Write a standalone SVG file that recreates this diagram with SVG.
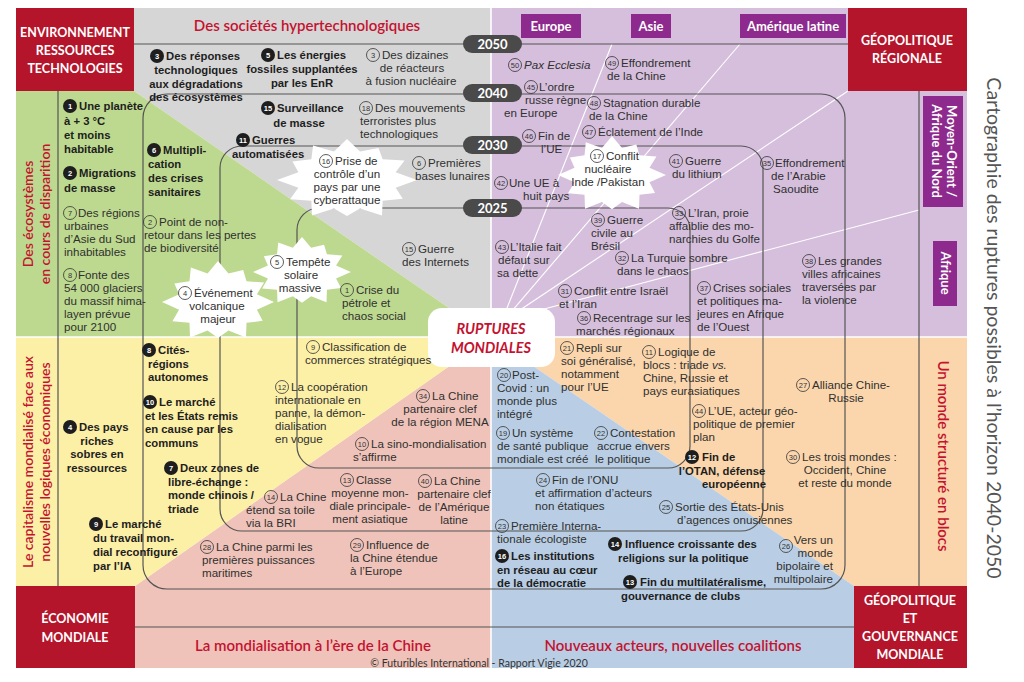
<svg xmlns="http://www.w3.org/2000/svg" width="1024" height="682" viewBox="0 0 1024 682">
<defs>
<style>
text{font-family:Lato,"Liberation Sans",sans-serif}
.t{font-family:"Liberation Sans",Arial,sans-serif;font-size:11.6px;fill:#303030}
.b{font-family:"Liberation Sans",Arial,sans-serif;font-size:11.3px;font-weight:700;fill:#1e1e1e}
.oc{fill:none;stroke:#333;stroke-width:0.8}
.bc{fill:#1e1e1e}
.on{font-family:"Liberation Sans",Arial,sans-serif;font-size:7.5px;fill:#333;text-anchor:middle}
.bn{font-family:"Liberation Sans",Arial,sans-serif;font-size:7.5px;font-weight:700;fill:#fff;text-anchor:middle}
.m{text-anchor:middle}
.e{text-anchor:end}
.ring{fill:none;stroke:#555;stroke-width:1.2}
.fan{stroke:#fff;stroke-width:1.1}
.sep{stroke:#fff;stroke-width:1.6}
.pill{fill:#4a4a4a}
.yr{font-size:13px;font-weight:700;fill:#fff;text-anchor:middle}
.red{fill:#b5152b}
.cap{font-size:12.5px;font-weight:700;fill:#fff;text-anchor:middle}
.rh{font-size:15px;fill:#c41230;text-anchor:middle;font-weight:600}
.rv{font-size:14px;fill:#c41230;text-anchor:middle;font-weight:600}
.pb{fill:#8e2a8e}
.pt{font-size:13px;font-weight:700;fill:#fff;text-anchor:middle}
.star{fill:#fff}
.i{font-style:italic}
</style>
<path id="star" d="M1,0 L0.695,0.186 L0.797,0.46 L0.509,0.509 L0.5,0.866 L0.186,0.695 L0,0.88 L-0.186,0.695 L-0.5,0.866 L-0.509,0.509 L-0.814,0.47 L-0.695,0.186 L-1,0 L-0.695,-0.186 L-0.779,-0.45 L-0.509,-0.509 L-0.485,-0.84 L-0.186,-0.695 L0,-1 L0.186,-0.695 L0.45,-0.779 L0.509,-0.509 L0.823,-0.475 L0.695,-0.186 Z"/>
</defs>
<rect width="1024" height="682" fill="#fff"/>
<g id="areas">
<polygon points="134,8 491,8 491,337 134,91" fill="#d6d6d6"/>
<polygon points="16,91 134,91 491,337 16,337" fill="#bdd98f"/>
<polygon points="491,8 967,8 967,337 491,337" fill="#d6bfdc"/>
<polygon points="491,337 967,337 967,586 854,586" fill="#fbd6ac"/>
<polygon points="491,337 854,586 854,668 491,668" fill="#b9cee4"/>
<polygon points="491,337 491,668 135,668 135,586" fill="#efc3b9"/>
<polygon points="16,337 491,337 135,586 16,586" fill="#fcefa6"/>
<line class="sep" x1="491" y1="8" x2="491" y2="668"/>
<line class="sep" x1="16" y1="337" x2="967" y2="337"/>
</g>
<g id="connectors">
<line class="fan" x1="503" y1="318" x2="612" y2="44"/>
<line class="fan" x1="506" y1="318" x2="740" y2="44"/>
<line class="fan" x1="508" y1="318" x2="848" y2="91"/>
<line class="fan" x1="510" y1="318" x2="919" y2="210"/>
<path class="ring" d="M134,44 H848 M58,91 V586 M919,91 V586 M135,627 H854"/>
<rect class="ring" x="143" y="94" width="702" height="495" rx="24"/>
<rect class="ring" x="220" y="146" width="543" height="385" rx="22"/>
<rect class="ring" x="297" y="208" width="393" height="260" rx="22"/>
</g>
<g id="stars">
<use href="#star" class="star" transform="translate(347,180) scale(70,41)"/>
<use href="#star" class="star" transform="translate(218,302) scale(56,41)"/>
<use href="#star" class="star" transform="translate(302,272) scale(49,35)"/>
<use href="#star" class="star" transform="translate(612,175) scale(54,39)"/>
</g>
<g id="years">
<rect class="pill" x="463" y="35" width="59" height="18" rx="9"/><text class="yr" x="492.5" y="49">2050</text>
<rect class="pill" x="463" y="84" width="59" height="18" rx="9"/><text class="yr" x="492.5" y="98">2040</text>
<rect class="pill" x="463" y="136" width="59" height="18" rx="9"/><text class="yr" x="492.5" y="150">2030</text>
<rect class="pill" x="463" y="199" width="59" height="18" rx="9"/><text class="yr" x="492.5" y="213">2025</text>
</g>
<g id="center">
<rect x="428" y="308" width="127" height="59" rx="14" fill="#fff"/>
<text font-size="14.5" font-weight="700" font-style="italic" fill="#c41230" text-anchor="middle"><tspan x="491" y="334">RUPTURES</tspan><tspan x="491" y="353">MONDIALES</tspan></text>
</g>
<g id="corners">
<rect class="red" x="16" y="8" width="118" height="83"/>
<text class="cap"><tspan x="75" y="37">ENVIRONNEMENT</tspan><tspan x="75" y="55">RESSOURCES</tspan><tspan x="75" y="73">TECHNOLOGIES</tspan></text>
<rect class="red" x="848" y="8" width="119" height="83"/>
<text class="cap"><tspan x="907" y="45">GÉOPOLITIQUE</tspan><tspan x="907" y="63">RÉGIONALE</tspan></text>
<rect class="red" x="16" y="586" width="119" height="82"/>
<text class="cap"><tspan x="75" y="623">ÉCONOMIE</tspan><tspan x="75" y="642">MONDIALE</tspan></text>
<rect class="red" x="854" y="586" width="113" height="82"/>
<text class="cap"><tspan x="910" y="605">GÉOPOLITIQUE</tspan><tspan x="910" y="623">ET</tspan><tspan x="910" y="641">GOUVERNANCE</tspan><tspan x="910" y="659">MONDIALE</tspan></text>
</g>
<g id="headers">
<text class="rh" x="307" y="31">Des sociétés hypertechnologiques</text>
<text class="rh" x="313" y="651">La mondialisation à l’ère de la Chine</text>
<text class="rh" x="673" y="651">Nouveaux acteurs, nouvelles coalitions</text>
<text x="479" y="667" font-size="10.5" fill="#333" text-anchor="middle">© Futuribles International - Rapport Vigie 2020</text>
<text class="rv" transform="translate(33,214) rotate(-90)">Des écosystèmes</text>
<text class="rv" transform="translate(50,214) rotate(-90)">en cours de disparition</text>
<text class="rv" transform="translate(33,462) rotate(-90)">Le capitalisme mondialisé face aux</text>
<text class="rv" transform="translate(50,462) rotate(-90)">nouvelles logiques économiques</text>
<text class="rh" transform="translate(938,456) rotate(90)">Un monde structuré en blocs</text>
<rect class="pb" x="521" y="14" width="60" height="24"/><text class="pt" x="551" y="31">Europe</text>
<rect class="pb" x="631" y="14" width="40" height="24"/><text class="pt" x="651" y="31">Asie</text>
<rect class="pb" x="740" y="14" width="106" height="24"/><text class="pt" x="793" y="31">Amérique latine</text>
<rect class="pb" x="923" y="96" width="40" height="111"/>
<text class="pt" font-size="12" transform="translate(947,151) rotate(90)">Moyen-Orient /</text>
<text class="pt" font-size="12" transform="translate(932,151) rotate(90)">Afrique du Nord</text>
<rect class="pb" x="933" y="241" width="24" height="65"/>
<text class="pt" font-size="12" transform="translate(941,273) rotate(90)">Afrique</text>
<text x="0" y="0" font-size="19.5" fill="#555" text-anchor="middle" transform="translate(987,328) rotate(90)">Cartographie des ruptures possibles à l’horizon 2040-2050</text>
</g>
<g id="nodes">
<g id="n-b3"><circle class="bc" cx="157" cy="56" r="7"/><text class="bn" x="157" y="58.7">3</text><text class="b"><tspan x="166" y="60">Des réponses</tspan><tspan class="m" x="196" y="74">technologiques</tspan><tspan class="m" x="196" y="87.5">aux dégradations</tspan><tspan class="m" x="196" y="101">des écosystèmes</tspan></text></g>
<g id="n-b5"><circle class="bc" cx="268" cy="55" r="7"/><text class="bn" x="268" y="57.7">5</text><text class="b"><tspan x="277" y="59">Les énergies</tspan><tspan class="m" x="302" y="73">fossiles supplantées</tspan><tspan class="m" x="302" y="87">par les EnR</tspan></text></g>
<g id="n-o3"><circle class="oc" cx="373" cy="55" r="6.5"/><text class="on" x="373" y="57.7">3</text><text class="t"><tspan x="382" y="59">Des dizaines</tspan><tspan class="m" x="412" y="72">de réacteurs</tspan><tspan class="m" x="411" y="85">à fusion nucléaire</tspan></text></g>
<g id="n-b15"><circle class="bc" cx="268" cy="108" r="7"/><text class="bn" x="268" y="110.7">15</text><text class="b" font-size="12"><tspan x="277" y="112">Surveillance</tspan><tspan class="m" x="299" y="127">de masse</tspan></text></g>
<g id="n-o18"><circle class="oc" cx="366" cy="108" r="6.5"/><text class="on" x="366" y="110.7">18</text><text class="t"><tspan x="375" y="112">Des mouvements</tspan><tspan x="360" y="125">terroristes plus</tspan><tspan x="360" y="138">technologiques</tspan></text></g>
<g id="n-b11"><circle class="bc" cx="243" cy="140" r="7"/><text class="bn" x="243" y="142.7">11</text><text class="b"><tspan x="252" y="144">Guerres</tspan><tspan x="232" y="158">automatisées</tspan></text></g>
<g id="n-o16"><circle class="oc" cx="326" cy="161" r="6.5"/><text class="on" x="326" y="163.7">16</text><text class="t"><tspan x="335" y="165">Prise de</tspan><tspan class="m" x="347" y="178">contrôle d’un</tspan><tspan class="m" x="347" y="191">pays par une</tspan><tspan class="m" x="347" y="204">cyberattaque</tspan></text></g>
<g id="n-o6"><circle class="oc" cx="419" cy="163" r="6.5"/><text class="on" x="419" y="165.7">6</text><text class="t"><tspan x="428" y="167">Premières</tspan><tspan x="415" y="180">bases lunaires</tspan></text></g>
<g id="n-o15"><circle class="oc" cx="409" cy="249" r="6.5"/><text class="on" x="409" y="251.7">15</text><text class="t"><tspan x="418" y="253">Guerre</tspan><tspan x="402" y="266">des Internets</tspan></text></g>
<g id="n-b1"><circle class="bc" cx="70" cy="106" r="7"/><text class="bn" x="70" y="108.7">1</text><text class="b"><tspan x="79" y="110">Une planète</tspan><tspan x="64" y="125">à + 3 °C</tspan><tspan x="64" y="139">et moins</tspan><tspan x="64" y="152.5">habitable</tspan></text></g>
<g id="n-b2"><circle class="bc" cx="70" cy="173" r="7"/><text class="bn" x="70" y="175.7">2</text><text class="b"><tspan x="79" y="177">Migrations</tspan><tspan x="64" y="192">de masse</tspan></text></g>
<g id="n-o7"><circle class="oc" cx="70" cy="213" r="6.5"/><text class="on" x="70" y="215.7">7</text><text class="t"><tspan x="78" y="217">Des régions</tspan><tspan x="64" y="230">urbaines</tspan><tspan x="64" y="243">d’Asie du Sud</tspan><tspan x="64" y="256">inhabitables</tspan></text></g>
<g id="n-o8"><circle class="oc" cx="70" cy="275" r="6.5"/><text class="on" x="70" y="277.7">8</text><text class="t"><tspan x="78" y="279">Fonte des</tspan><tspan x="64" y="292">54 000 glaciers</tspan><tspan x="64" y="305">du massif hima-</tspan><tspan x="64" y="318">layen prévue</tspan><tspan x="64" y="331">pour 2100</tspan></text></g>
<g id="n-b6"><circle class="bc" cx="154" cy="150" r="7"/><text class="bn" x="154" y="152.7">6</text><text class="b"><tspan x="163" y="154">Multipli-</tspan><tspan x="148" y="168">cation</tspan><tspan x="148" y="182">des crises</tspan><tspan x="148" y="196">sanitaires</tspan></text></g>
<g id="n-o2"><circle class="oc" cx="150" cy="222" r="6.5"/><text class="on" x="150" y="224.7">2</text><text class="t"><tspan x="159" y="226">Point de non-</tspan><tspan x="144" y="239">retour dans les pertes</tspan><tspan x="144" y="252">de biodiversité</tspan></text></g>
<g id="n-o4"><circle class="oc" cx="185" cy="293" r="6.5"/><text class="on" x="185" y="295.7">4</text><text class="t"><tspan x="194" y="297">Événement</tspan><tspan class="m" x="217" y="310">volcanique</tspan><tspan class="m" x="218" y="323">majeur</tspan></text></g>
<g id="n-o5"><circle class="oc" cx="277" cy="262" r="6.5"/><text class="on" x="277" y="264.7">5</text><text class="t"><tspan x="286" y="266">Tempête</tspan><tspan class="m" x="301" y="279">solaire</tspan><tspan class="m" x="300" y="292">massive</tspan></text></g>
<g id="n-o1"><circle class="oc" cx="347" cy="290" r="6.5"/><text class="on" x="347" y="292.7">1</text><text class="t"><tspan x="356" y="294">Crise du</tspan><tspan x="342" y="307">pétrole et</tspan><tspan x="342" y="320">chaos social</tspan></text></g>
<g id="n-o50"><circle class="oc" cx="515" cy="65" r="6.5"/><text class="on" x="515" y="67.7">50</text><text class="t i" x="524" y="69">Pax Ecclesia</text></g>
<g id="n-o49"><circle class="oc" cx="612" cy="63" r="6.5"/><text class="on" x="612" y="65.7">49</text><text class="t"><tspan x="621" y="67">Effondrement</tspan><tspan x="607" y="80">de la Chine</tspan></text></g>
<g id="n-o45"><circle class="oc" cx="531" cy="87" r="6.5"/><text class="on" x="531" y="89.7">45</text><text class="t"><tspan x="539" y="91">L’ordre</tspan><tspan x="525" y="104">russe règne</tspan><tspan x="504" y="117">en Europe</tspan></text></g>
<g id="n-o48"><circle class="oc" cx="594" cy="103" r="6.5"/><text class="on" x="594" y="105.7">48</text><text class="t"><tspan x="603" y="107">Stagnation durable</tspan><tspan x="589" y="120">de la Chine</tspan></text></g>
<g id="n-o46"><circle class="oc" cx="529" cy="136" r="6.5"/><text class="on" x="529" y="138.7">46</text><text class="t"><tspan x="538" y="140">Fin de</tspan><tspan x="541" y="153">l’UE</tspan></text></g>
<g id="n-o47"><circle class="oc" cx="589" cy="132" r="6.5"/><text class="on" x="589" y="134.7">47</text><text class="t" x="598" y="136">Éclatement de l’Inde</text></g>
<g id="n-o17"><circle class="oc" cx="597" cy="156" r="6.5"/><text class="on" x="597" y="158.7">17</text><text class="t"><tspan x="606" y="160">Conflit</tspan><tspan class="m" x="608" y="173">nucléaire</tspan><tspan class="m" x="608" y="186">Inde /Pakistan</tspan></text></g>
<g id="n-o41"><circle class="oc" cx="676" cy="161" r="6.5"/><text class="on" x="676" y="163.7">41</text><text class="t"><tspan x="685" y="165">Guerre</tspan><tspan x="672" y="178">du lithium</tspan></text></g>
<g id="n-o42"><circle class="oc" cx="501" cy="183" r="6.5"/><text class="on" x="501" y="185.7">42</text><text class="t"><tspan x="509" y="187">Une UE à</tspan><tspan x="523" y="200">huit pays</tspan></text></g>
<g id="n-o35"><circle class="oc" cx="767" cy="163" r="6.5"/><text class="on" x="767" y="165.7">35</text><text class="t"><tspan x="775" y="167">Effondrement</tspan><tspan x="771" y="180">de l’Arabie</tspan><tspan x="773" y="193">Saoudite</tspan></text></g>
<g id="n-o33"><circle class="oc" cx="679" cy="213" r="6.5"/><text class="on" x="679" y="215.7">33</text><text class="t"><tspan x="688" y="217">L’Iran, proie</tspan><tspan x="669" y="230">affaiblie des mo-</tspan><tspan x="669" y="243">narchies du Golfe</tspan></text></g>
<g id="n-o39"><circle class="oc" cx="598" cy="220" r="6.5"/><text class="on" x="598" y="222.7">39</text><text class="t"><tspan x="607" y="224">Guerre</tspan><tspan x="591" y="237">civile au</tspan><tspan x="591" y="250">Brésil</tspan></text></g>
<g id="n-o43"><circle class="oc" cx="502" cy="247" r="6.5"/><text class="on" x="502" y="249.7">43</text><text class="t"><tspan x="510" y="251">L’Italie fait</tspan><tspan x="498" y="264">défaut sur</tspan><tspan x="497" y="277">sa dette</tspan></text></g>
<g id="n-o32"><circle class="oc" cx="622" cy="258" r="6.5"/><text class="on" x="622" y="260.7">32</text><text class="t"><tspan x="631" y="262">La Turquie sombre</tspan><tspan x="617" y="275">dans le chaos</tspan></text></g>
<g id="n-o31"><circle class="oc" cx="565" cy="291" r="6.5"/><text class="on" x="565" y="293.7">31</text><text class="t"><tspan x="574" y="295">Conflit entre Israël</tspan><tspan x="559" y="308">et l’Iran</tspan></text></g>
<g id="n-o36"><circle class="oc" cx="584" cy="318" r="6.5"/><text class="on" x="584" y="320.7">36</text><text class="t"><tspan x="593" y="322">Recentrage sur les</tspan><tspan x="576" y="335">marchés régionaux</tspan></text></g>
<g id="n-o37"><circle class="oc" cx="704" cy="288" r="6.5"/><text class="on" x="704" y="290.7">37</text><text class="t"><tspan x="713" y="292">Crises sociales</tspan><tspan x="697" y="305">et politiques ma-</tspan><tspan x="697" y="318">jeures en Afrique</tspan><tspan x="697" y="331">de l’Ouest</tspan></text></g>
<g id="n-o38"><circle class="oc" cx="809" cy="261" r="6.5"/><text class="on" x="809" y="263.7">38</text><text class="t"><tspan x="818" y="265">Les grandes</tspan><tspan x="802" y="278">villes africaines</tspan><tspan x="802" y="291">traversées par</tspan><tspan x="802" y="304">la violence</tspan></text></g>
<g id="n-o21"><circle class="oc" cx="567" cy="348" r="6.5"/><text class="on" x="567" y="350.7">21</text><text class="t"><tspan x="576" y="352">Repli sur</tspan><tspan x="561" y="365">soi généralisé,</tspan><tspan x="561" y="378">notamment</tspan><tspan x="561" y="391">pour l’UE</tspan></text></g>
<g id="n-o11"><circle class="oc" cx="649" cy="352" r="6.5"/><text class="on" x="649" y="354.7">11</text><text class="t"><tspan x="658" y="356">Logique de</tspan><tspan x="643" y="369">blocs : triade <tspan class="i">vs.</tspan></tspan><tspan x="643" y="382">Chine, Russie et</tspan><tspan x="643" y="395">pays eurasiatiques</tspan></text></g>
<g id="n-o44"><circle class="oc" cx="699" cy="411" r="6.5"/><text class="on" x="699" y="413.7">44</text><text class="t"><tspan x="708" y="415">L’UE, acteur géo-</tspan><tspan x="693" y="428">politique de premier</tspan><tspan x="693" y="441">plan</tspan></text></g>
<g id="n-o27"><circle class="oc" cx="803" cy="385" r="6.5"/><text class="on" x="803" y="387.7">27</text><text class="t"><tspan x="812" y="389">Alliance Chine-</tspan><tspan class="m" x="846" y="402">Russie</tspan></text></g>
<g id="n-o30"><circle class="oc" cx="793" cy="457" r="6.5"/><text class="on" x="793" y="459.7">30</text><text class="t"><tspan x="802" y="461">Les trois mondes :</tspan><tspan class="m" x="845" y="474">Occident, Chine</tspan><tspan class="m" x="845" y="487">et reste du monde</tspan></text></g>
<g id="n-b12"><circle class="bc" cx="692" cy="457" r="7"/><text class="bn" x="692" y="459.7">12</text><text class="b" font-size="11.8"><tspan x="702" y="461">Fin de</tspan><tspan class="m" x="722" y="474.5">l’OTAN, défense</tspan><tspan class="e" x="766" y="488">européenne</tspan></text></g>
<g id="n-o26"><circle class="oc" cx="786" cy="546" r="6.5"/><text class="on" x="786" y="548.7">26</text><text class="t e"><tspan x="833" y="544">Vers un</tspan><tspan x="833" y="557">monde</tspan><tspan x="833" y="570">bipolaire et</tspan><tspan x="833" y="583">multipolaire</tspan></text></g>
<g id="n-b8"><circle class="bc" cx="149" cy="350" r="7"/><text class="bn" x="149" y="352.7">8</text><text class="b"><tspan x="158" y="354">Cités-</tspan><tspan x="148" y="367.5">régions</tspan><tspan x="148" y="381">autonomes</tspan></text></g>
<g id="n-b10"><circle class="bc" cx="150" cy="402" r="7"/><text class="bn" x="150" y="404.7">10</text><text class="b"><tspan x="159" y="406">Le marché</tspan><tspan x="145" y="419.5">et les États remis</tspan><tspan x="145" y="433">en cause par les</tspan><tspan x="145" y="446.5">communs</tspan></text></g>
<g id="n-b4"><circle class="bc" cx="70" cy="427" r="7"/><text class="bn" x="70" y="429.7">4</text><text class="b"><tspan x="79" y="431">Des pays</tspan><tspan class="m" x="97" y="444.5">riches</tspan><tspan class="m" x="97" y="458">sobres en</tspan><tspan class="m" x="97" y="471.5">ressources</tspan></text></g>
<g id="n-b7"><circle class="bc" cx="171" cy="468" r="7"/><text class="bn" x="171" y="470.7">7</text><text class="b"><tspan x="180" y="472">Deux zones de</tspan><tspan x="168" y="485.5">libre-échange :</tspan><tspan x="168" y="499">monde chinois /</tspan><tspan x="168" y="512.5">triade</tspan></text></g>
<g id="n-b9"><circle class="bc" cx="96" cy="524" r="7"/><text class="bn" x="96" y="526.7">9</text><text class="b"><tspan x="105" y="528">Le marché</tspan><tspan x="93" y="542">du travail mon-</tspan><tspan x="93" y="556">dial reconfiguré</tspan><tspan x="93" y="570">par l’IA</tspan></text></g>
<g id="n-o9"><circle class="oc" cx="313" cy="347" r="6.5"/><text class="on" x="313" y="349.7">9</text><text class="t"><tspan x="322" y="351">Classification de</tspan><tspan x="305" y="364">commerces stratégiques</tspan></text></g>
<g id="n-o12"><circle class="oc" cx="282" cy="387" r="6.5"/><text class="on" x="282" y="389.7">12</text><text class="t"><tspan x="291" y="391">La coopération</tspan><tspan x="275" y="404">internationale en</tspan><tspan x="275" y="417">panne, la démon-</tspan><tspan x="275" y="430">dialisation</tspan><tspan x="275" y="443">en vogue</tspan></text></g>
<g id="n-o34"><circle class="oc" cx="423" cy="396" r="6.5"/><text class="on" x="423" y="398.7">34</text><text class="t"><tspan x="432" y="400">La Chine</tspan><tspan class="m" x="440" y="413">partenaire clef</tspan><tspan class="m" x="440" y="426">de la région MENA</tspan></text></g>
<g id="n-o10"><circle class="oc" cx="362" cy="444" r="6.5"/><text class="on" x="362" y="446.7">10</text><text class="t"><tspan x="371" y="448">La sino-mondialisation</tspan><tspan x="353" y="461">s’affirme</tspan></text></g>
<g id="n-o14"><circle class="oc" cx="271" cy="497" r="6.5"/><text class="on" x="271" y="499.7">14</text><text class="t"><tspan x="280" y="501">La Chine</tspan><tspan x="246" y="514">étend sa toile</tspan><tspan x="246" y="527">via la BRI</tspan></text></g>
<g id="n-o13"><circle class="oc" cx="347" cy="480" r="6.5"/><text class="on" x="347" y="482.7">13</text><text class="t"><tspan x="356" y="484">Classe</tspan><tspan class="m" x="370" y="497">moyenne mon-</tspan><tspan class="m" x="370" y="510">diale principale-</tspan><tspan class="m" x="370" y="523">ment asiatique</tspan></text></g>
<g id="n-o40"><circle class="oc" cx="425" cy="481" r="6.5"/><text class="on" x="425" y="483.7">40</text><text class="t"><tspan x="434" y="485">La Chine</tspan><tspan class="m" x="454" y="498">partenaire clef</tspan><tspan class="m" x="454" y="511">de l’Amérique</tspan><tspan class="m" x="454" y="524">latine</tspan></text></g>
<g id="n-o28"><circle class="oc" cx="207" cy="547" r="6.5"/><text class="on" x="207" y="549.7">28</text><text class="t"><tspan x="216" y="551">La Chine parmi les</tspan><tspan x="202" y="564">premières puissances</tspan><tspan x="202" y="577">maritimes</tspan></text></g>
<g id="n-o29"><circle class="oc" cx="357" cy="545" r="6.5"/><text class="on" x="357" y="547.7">29</text><text class="t"><tspan x="366" y="549">Influence de</tspan><tspan x="350" y="562">la Chine étendue</tspan><tspan x="350" y="575">à l’Europe</tspan></text></g>
<g id="n-o20"><circle class="oc" cx="504" cy="375" r="6.5"/><text class="on" x="504" y="377.7">20</text><text class="t"><tspan x="512" y="379">Post-</tspan><tspan x="497" y="392">Covid : un</tspan><tspan x="497" y="405">monde plus</tspan><tspan x="497" y="418">intégré</tspan></text></g>
<g id="n-o19"><circle class="oc" cx="503" cy="433" r="6.5"/><text class="on" x="503" y="435.7">19</text><text class="t"><tspan x="512" y="437">Un système</tspan><tspan x="497" y="450">de santé publique</tspan><tspan x="497" y="463">mondiale est créé</tspan></text></g>
<g id="n-o22"><circle class="oc" cx="601" cy="433" r="6.5"/><text class="on" x="601" y="435.7">22</text><text class="t"><tspan x="610" y="437">Contestation</tspan><tspan x="597" y="450">accrue envers</tspan><tspan x="595" y="463">le politique</tspan></text></g>
<g id="n-o24"><circle class="oc" cx="543" cy="480" r="6.5"/><text class="on" x="543" y="482.7">24</text><text class="t"><tspan x="552" y="484">Fin de l’ONU</tspan><tspan x="535" y="497">et affirmation d’acteurs</tspan><tspan x="535" y="510">non étatiques</tspan></text></g>
<g id="n-o25"><circle class="oc" cx="666" cy="507" r="6.5"/><text class="on" x="666" y="509.7">25</text><text class="t"><tspan x="675" y="511">Sortie des États-Unis</tspan><tspan x="677" y="524">d’agences onusiennes</tspan></text></g>
<g id="n-o23"><circle class="oc" cx="502" cy="526" r="6.5"/><text class="on" x="502" y="528.7">23</text><text class="t"><tspan x="511" y="530">Première Interna-</tspan><tspan x="497" y="543">tionale écologiste</tspan></text></g>
<g id="n-b16"><circle class="bc" cx="502" cy="556" r="7"/><text class="bn" x="502" y="558.7">16</text><text class="b"><tspan x="511" y="560">Les institutions</tspan><tspan x="497" y="573.5">en réseau au cœur</tspan><tspan x="497" y="587">de la démocratie</tspan></text></g>
<g id="n-b14"><circle class="bc" cx="615" cy="544" r="7"/><text class="bn" x="615" y="546.7">14</text><text class="b"><tspan x="625" y="548">Influence croissante des</tspan><tspan x="618" y="562">religions sur la politique</tspan></text></g>
<g id="n-b13"><circle class="bc" cx="630" cy="582" r="7"/><text class="bn" x="630" y="584.7">13</text><text class="b"><tspan x="640" y="586">Fin du multilatéralisme,</tspan><tspan x="621" y="600">gouvernance de clubs</tspan></text></g>
</g>
</svg>
